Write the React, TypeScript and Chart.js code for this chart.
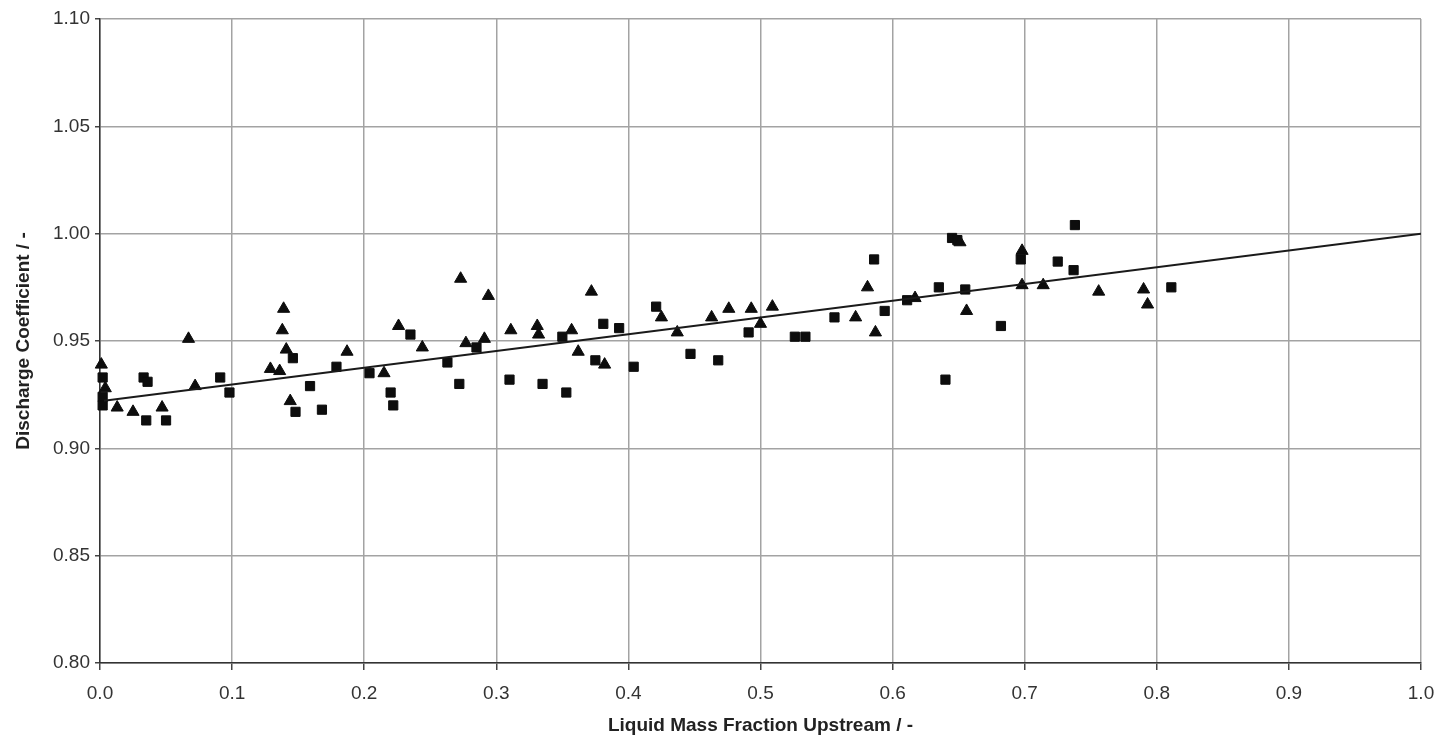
import React, { useEffect, useRef } from "react";
import { Chart, registerables } from "chart.js";

Chart.register(...registerables);

// Triangle series: liquid mass fraction vs. discharge coefficient
const triX = [
  0.001, 0.004, 0.013, 0.025, 0.047, 0.067, 0.072, 0.139, 0.138, 0.141,
  0.129, 0.136, 0.144, 0.187, 0.215, 0.226, 0.244, 0.273, 0.277, 0.294,
  0.291, 0.311, 0.331, 0.332, 0.357, 0.362, 0.372, 0.382, 0.425, 0.437,
  0.463, 0.476, 0.493, 0.5, 0.509, 0.572, 0.581, 0.587, 0.617, 0.651,
  0.656, 0.698, 0.698, 0.714, 0.756, 0.79, 0.793,
];
const triY = [
  0.939, 0.928, 0.919, 0.917, 0.919, 0.951, 0.929, 0.965, 0.955, 0.946,
  0.937, 0.936, 0.922, 0.945, 0.935, 0.957, 0.947, 0.979, 0.949, 0.971,
  0.951, 0.955, 0.957, 0.953, 0.955, 0.945, 0.973, 0.939, 0.961, 0.954,
  0.961, 0.965, 0.965, 0.958, 0.966, 0.961, 0.975, 0.954, 0.97, 0.996,
  0.964, 0.992, 0.976, 0.976, 0.973, 0.974, 0.967,
];

// Square series
const sqX = [
  0.002, 0.002, 0.002, 0.035, 0.033, 0.036, 0.05, 0.091, 0.098, 0.146,
  0.148, 0.159, 0.168, 0.179, 0.204, 0.22, 0.222, 0.235, 0.263, 0.272,
  0.285, 0.31, 0.335, 0.35, 0.353, 0.375, 0.381, 0.393, 0.404, 0.421,
  0.447, 0.468, 0.491, 0.526, 0.534, 0.556, 0.586, 0.594, 0.611, 0.635,
  0.64, 0.645, 0.649, 0.655, 0.682, 0.697, 0.725, 0.737, 0.738, 0.811,
];
const sqY = [
  0.933, 0.924, 0.92, 0.913, 0.933, 0.931, 0.913, 0.933, 0.926, 0.942,
  0.917, 0.929, 0.918, 0.938, 0.935, 0.926, 0.92, 0.953, 0.94, 0.93,
  0.947, 0.932, 0.93, 0.952, 0.926, 0.941, 0.958, 0.956, 0.938, 0.966,
  0.944, 0.941, 0.954, 0.952, 0.952, 0.961, 0.988, 0.964, 0.969, 0.975,
  0.932, 0.998, 0.997, 0.974, 0.957, 0.988, 0.987, 0.983, 1.004, 0.975,
];

// Linear trend line end points
const trendX = [0.003, 1.0];
const trendY = [0.9222, 1.0];

const xTickDigits = 1;
const yTickDigits = 2;

const FONT = "'Liberation Sans', Arial, sans-serif";

const toPoints = (xs: number[], ys: number[]) => xs.map((x, i) => ({ x, y: ys[i] }));

export default function App() {
  const canvasRef = useRef<HTMLCanvasElement | null>(null);

  useEffect(() => {
    if (!canvasRef.current) return;
    const chart = new Chart(canvasRef.current, {
      type: "scatter",
      data: {
        datasets: [
          {
            label: "Trend",
            data: toPoints(trendX, trendY),
            showLine: true,
            borderColor: "#1a1a1a",
            borderWidth: 2,
            pointRadius: 0,
            fill: false,
          },
          {
            label: "Triangles",
            data: toPoints(triX, triY),
            pointStyle: "triangle",
            pointRadius: 7,
            backgroundColor: "#0d0d0d",
            borderColor: "#0d0d0d",
            borderWidth: 1,
            clip: false,
          },
          {
            label: "Squares",
            data: toPoints(sqX, sqY),
            pointStyle: "rect",
            pointRadius: 6.5,
            backgroundColor: "#0d0d0d",
            borderColor: "#0d0d0d",
            borderWidth: 1,
            clip: false,
          },
        ],
      },
      options: {
        animation: false,
        responsive: true,
        maintainAspectRatio: false,
        devicePixelRatio: 1,
        layout: { padding: { left: 0, top: 19, right: 19, bottom: 0 } },
        plugins: {
          legend: { display: false },
          tooltip: { enabled: false },
        },
        scales: {
          x: {
            type: "linear",
            position: "bottom",
            min: 0,
            max: 1,
            afterFit: (s: any) => {
              s.height = 76;
              s.paddingLeft = 0;
              s.paddingRight = 0;
            },
            ticks: {
              stepSize: 0.1,
              autoSkip: false,
              maxRotation: 0,
              padding: 12,
              color: "#333",
              font: { family: FONT, size: 19 },
              callback: (v: any) => Number(v).toFixed(xTickDigits),
            },
            grid: {
              color: "#a3a3a3",
              lineWidth: 1.5,
              tickLength: 7,
              tickColor: "#444",
            },
            border: { color: "#333", width: 1.5 },
            title: {
              display: true,
              text: "Liquid Mass Fraction Upstream / -",
              color: "#222",
              font: { family: FONT, size: 19, weight: "bold" },
              padding: { top: 0, bottom: 2 },
            },
          },
          y: {
            type: "linear",
            min: 0.8,
            max: 1.1,
            afterFit: (s: any) => {
              s.width = 100;
              s.paddingTop = 0;
              s.paddingBottom = 0;
            },
            ticks: {
              stepSize: 0.05,
              autoSkip: false,
              padding: 5,
              color: "#333",
              font: { family: FONT, size: 19 },
              callback: (v: any) => Number(v).toFixed(yTickDigits),
            },
            grid: {
              color: "#a3a3a3",
              lineWidth: 1.5,
              tickLength: 5,
              tickColor: "#444",
            },
            border: { color: "#333", width: 1.5 },
            title: {
              display: true,
              text: "Discharge Coefficient / -",
              color: "#222",
              font: { family: FONT, size: 19, weight: "bold" },
              padding: { top: 12, bottom: 0 },
            },
          },
        },
      },
    } as any);
    return () => chart.destroy();
  }, []);

  return (
    <div
      style={{
        position: "fixed",
        left: 0,
        top: 0,
        width: 1440,
        height: 739,
        background: "#fff",
      }}
    >
      <canvas ref={canvasRef} />
    </div>
  );
}
